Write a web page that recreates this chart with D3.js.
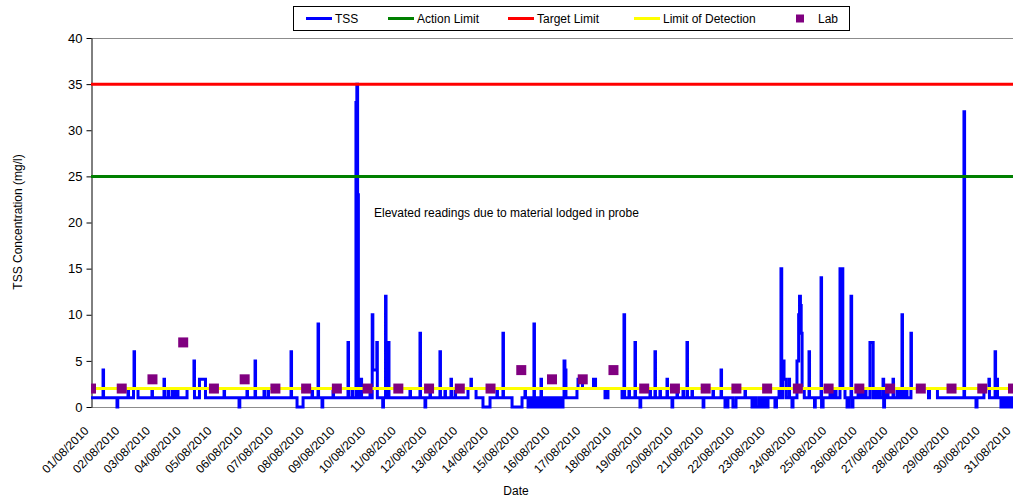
<!DOCTYPE html>
<html>
<head>
<meta charset="utf-8">
<script src="https://cdn.jsdelivr.net/npm/d3@7"></script>
<style>
  body { margin: 0; background: #fff; }
  svg text { font-family: Arial, "Liberation Sans", sans-serif; fill: #000; }
</style>
</head>
<body>
<svg id="chart" width="1013" height="504"></svg>
<script>
// Daily date labels along the x axis
const dateLabels = [
  "01/08/2010","02/08/2010","03/08/2010","04/08/2010","05/08/2010","06/08/2010",
  "07/08/2010","08/08/2010","09/08/2010","10/08/2010","11/08/2010","12/08/2010",
  "13/08/2010","14/08/2010","15/08/2010","16/08/2010","17/08/2010","18/08/2010",
  "19/08/2010","20/08/2010","21/08/2010","22/08/2010","23/08/2010","24/08/2010",
  "25/08/2010","26/08/2010","27/08/2010","28/08/2010","29/08/2010","30/08/2010",
  "31/08/2010"
];
const yTicks = [0, 5, 10, 15, 20, 25, 30, 35, 40];

// Reference limits (mg/l)
const actionLimit = 25;
const targetLimit = 35;
const detectionLimit = 2;

// Daily laboratory samples (mg/l), one per date label
const labValues = [2,2,3,7,2,3,2,2,2,2,2,2,2,2,4,3,3,4,2,2,2,2,2,2,2,2,2,2,2,2,2];

// Continuous TSS probe readings: [hours since 01/08/2010 00:00, mg/l], held until next reading
const tssReadings = [
  [0,1],[9.4,4],[9.8,1],[20.3,0],[20.9,1],[28.9,2],[29.3,1],[33.2,2],[33.6,6],[34.0,2],[36.7,1],
  [47.6,2],[48.0,1],[57.0,3],[57.4,1],[60.1,2],[60.5,1],[63.3,2],[64.4,1],[66.4,2],[67.9,1],
  [75.0,2],[80.4,5],[80.8,1],[84.7,3],[89.4,1],[103.9,2],[104.3,1],[115.6,0],[116.2,1],
  [121.8,2],[122.2,1],[128.1,5],[128.5,1],[135.1,2],[135.5,1],[138.2,2],[138.6,1],
  [156.2,6],[156.6,1],[160.9,0],[165.6,1],[172.6,2],[173.0,1],[177.3,9],[177.7,1],
  [180.4,0],[181.0,1],[189.0,2],[189.4,1],[200.7,7],[201.1,1],[203.8,2],[204.2,1],
  [206.9,33],[207.3,1],[207.6,35],[208.2,23],[208.8,1],[210.8,3],[211.3,1],[217.9,2],[218.3,1],
  [219.6,10],[220.1,4],[223.2,7],[223.6,1],[227.8,0],[228.4,1],[230.0,12],[230.4,1],
  [232.3,7],[232.7,1],[249.1,2],[249.5,1],[256.9,8],[257.3,1],[260.8,0],[261.4,1],
  [264.7,2],[265.1,1],[272.5,6],[272.9,1],[276.4,2],[276.8,1],[281.1,3],[281.5,1],
  [284.3,2],[284.7,1],[294.4,2],[296.7,3],[297.1,2],[300.7,1],[306.1,0],[311.6,1],
  [317.0,2],[317.4,1],[321.7,8],[322.1,1],[328.8,0],[336.6,1],[338.9,2],[339.3,1],
  [341.3,0],[342.8,1],[344.4,0],[345.9,9],[346.3,0],[347.5,1],[349.1,0],[350.6,1],
  [351.4,3],[351.8,0],[353.8,1],[355.3,0],[356.9,1],[358.1,0],[360.0,1],[360.8,0],
  [363.1,1],[363.9,0],[366.2,1],[367.0,0],[368.6,1],[369.4,5],[370.1,4],[370.9,1],
  [379.5,2],[380.3,3],[383.8,2],[392.4,3],[394.0,2],[401.4,1],[403.7,2],[414.7,1],
  [416.2,10],[416.7,1],[420.1,2],[420.5,1],[424.8,7],[425.2,1],[428.7,0],[429.3,1],
  [436.5,2],[436.9,1],[440.4,6],[440.8,1],[444.3,2],[444.7,1],[449.8,3],[450.2,1],
  [453.7,0],[454.3,1],[457.6,2],[458.0,1],[462.3,2],[462.7,1],[465.4,7],[465.8,1],
  [469.3,2],[469.7,1],[478.0,0],[478.6,1],[485.7,2],[486.1,1],[492.0,4],[492.4,1],
  [495.1,0],[497.4,1],[501.3,0],[503.7,1],[510.7,2],[511.1,1],[516.2,0],[517.8,1],
  [519.3,0],[521.7,1],[524.0,0],[525.6,1],[526.7,0],[528.7,1],[534.1,0],[535.3,1],
  [537.3,2],[537.7,1],[538.8,15],[539.4,1],[540.0,5],[541.2,3],[542.7,1],[545.1,3],
  [545.5,1],[547.4,0],[548.2,1],[551.3,5],[552.6,10],[553.3,12],[554.0,11],[554.6,8],
  [555.3,2],[557.0,1],[560.7,6],[561.1,1],[565.0,0],[565.6,1],[570.1,14],[570.5,0],
  [571.7,1],[577.1,2],[578.7,1],[581.0,2],[581.8,1],[584.9,15],[585.5,2],[586.5,15],
  [587.1,2],[588.8,1],[590.4,0],[591.6,1],[593.5,12],[594.0,0],[595.0,1],[599.0,2],
  [599.8,1],[601.3,2],[602.9,1],[604.4,2],[605.2,1],[608.3,7],[610.8,1],[612.2,2],
  [613.8,1],[615.3,2],[616.1,1],[618.5,3],[619.0,0],[619.7,1],[620.8,2],[622.4,1],
  [626.3,3],[626.7,1],[629.4,2],[631.0,1],[633.3,10],[633.7,1],[635.6,2],[637.2,1],
  [640.3,8],[640.7,2],[654.0,1],[654.8,2],[661.0,1],[681.7,32],[682.2,1],[691.1,0],
  [691.9,1],[697.3,2],[701.2,3],[701.6,1],[706.0,6],[706.4,1],[707.5,3],[707.9,1],
  [710.6,0],[712.2,1],[713.0,0],[714.5,1],[715.3,0],[716.9,1],[717.7,0],[719.2,1],[721,1]
];

const parseDate = d3.timeParse("%d/%m/%Y");
const fmtDate = d3.timeFormat("%d/%m/%Y");
const dates = dateLabels.map(parseDate);
const start = dates[0];
const tss = tssReadings.map(([h, v]) => ({ t: new Date(start.getTime() + h * 3600e3), v }));

const svg = d3.select("#chart");
const plot = { left: 91, right: 1013, top: 38, bottom: 407 };

const x = d3.scaleTime().domain([dates[0], dates[dates.length - 1]]).range([plot.left, plot.right]);
const y = d3.scaleLinear().domain([0, 40]).range([plot.bottom, plot.top]);

svg.append("defs").append("clipPath").attr("id", "plotClip")
  .append("rect").attr("x", plot.left).attr("y", plot.top - 2)
  .attr("width", plot.right - plot.left + 10).attr("height", plot.bottom - plot.top + 4);

// Plot frame (top edge)
svg.append("line").attr("x1", plot.left).attr("x2", plot.right + 5)
  .attr("y1", plot.top + 0.5).attr("y2", plot.top + 0.5)
  .attr("stroke", "#8c8c8c").attr("stroke-width", 1);

// X axis
const xAxis = svg.append("g").attr("transform", `translate(0,${plot.bottom + 0.5})`)
  .call(d3.axisBottom(x).tickValues(dates).tickFormat(fmtDate).tickSize(0).tickSizeOuter(0));
xAxis.select(".domain").attr("stroke", "#8c8c8c").attr("d", `M${plot.left},0H${plot.right + 5}`);
xAxis.selectAll("text")
  .attr("font-size", 12).attr("text-anchor", "end")
  .attr("dy", null).attr("y", null)
  .attr("transform", "translate(-2,24) rotate(-45)");

// Y axis
const yAxis = svg.append("g").attr("transform", `translate(${plot.left + 0.5},0)`)
  .call(d3.axisLeft(y).tickValues(yTicks).tickSize(5).tickPadding(4).tickSizeOuter(0));
yAxis.select(".domain").attr("stroke", "#000");
yAxis.selectAll(".tick line").attr("stroke", "#000");
yAxis.selectAll("text").attr("font-size", 13);

// Axis titles
svg.append("text").attr("x", 516).attr("y", 495).attr("text-anchor", "middle")
  .attr("font-size", 12).text("Date");
svg.append("text").attr("transform", "translate(22,222) rotate(-90)").attr("text-anchor", "middle")
  .attr("font-size", 12).text("TSS Concentration (mg/l)");

const g = svg.append("g").attr("clip-path", "url(#plotClip)");

// TSS probe series
g.append("path").datum(tss)
  .attr("fill", "none").attr("stroke", "#0000ff").attr("stroke-width", 3)
  .attr("stroke-linejoin", "miter")
  .attr("d", d3.line().x(d => x(d.t)).y(d => y(d.v)).curve(d3.curveStepAfter));

// Limit lines
const limitLine = val => d3.line().x(d => x(d)).y(() => y(val));
[[actionLimit, "#008000"], [targetLimit, "#ff0000"], [detectionLimit, "#ffff00"]].forEach(([val, col]) => {
  g.append("path").datum(dates).attr("fill", "none").attr("stroke", col)
    .attr("stroke-width", 3).attr("d", limitLine(val)(dates));
});

// Lab samples
g.selectAll("rect.lab").data(labValues).join("rect").attr("class", "lab")
  .attr("x", (d, i) => x(dates[i]) - 5).attr("y", d => y(d) - 5)
  .attr("width", 10).attr("height", 10).attr("fill", "#800080");

// Annotation
svg.append("text").attr("x", 374).attr("y", 217).attr("font-size", 12)
  .text("Elevated readings due to material lodged in probe");

// Legend
const legend = svg.append("g");
legend.append("rect").attr("x", 293.5).attr("y", 6.5).attr("width", 556).attr("height", 24)
  .attr("fill", "#fff").attr("stroke", "#000").attr("stroke-width", 1);
const legendItems = [
  { label: "TSS", color: "#0000ff", type: "line", x: 306 },
  { label: "Action Limit", color: "#008000", type: "line", x: 388 },
  { label: "Target Limit", color: "#ff0000", type: "line", x: 508 },
  { label: "Limit of Detection", color: "#ffff00", type: "line", x: 634 },
  { label: "Lab", color: "#800080", type: "square", x: 796 }
];
legendItems.forEach(it => {
  if (it.type === "line") {
    legend.append("line").attr("x1", it.x).attr("x2", it.x + 26).attr("y1", 18.5).attr("y2", 18.5)
      .attr("stroke", it.color).attr("stroke-width", 3);
    legend.append("text").attr("x", it.x + 29).attr("y", 23).attr("font-size", 12).text(it.label);
  } else {
    legend.append("rect").attr("x", it.x).attr("y", 14.5).attr("width", 8).attr("height", 8).attr("fill", it.color);
    legend.append("text").attr("x", it.x + 22).attr("y", 23).attr("font-size", 12).text(it.label);
  }
});
</script>
</body>
</html>
